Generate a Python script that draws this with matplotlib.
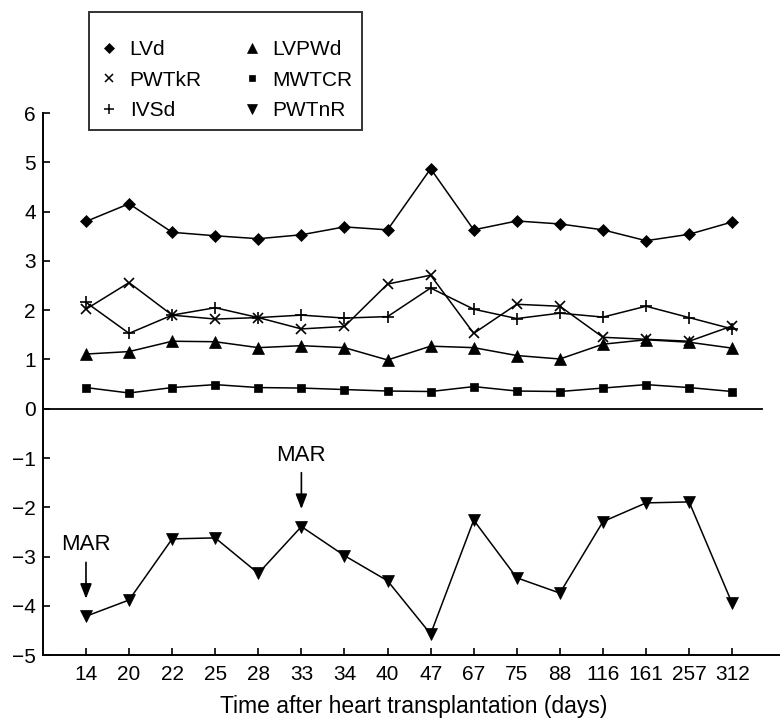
import matplotlib
matplotlib.use("Agg")
from matplotlib import pyplot as plt
from matplotlib.lines import Line2D

plt.rcParams["font.family"] = ["Liberation Sans", "DejaVu Sans"]

days = ["14", "20", "22", "25", "28", "33", "34", "40", "47", "67", "75", "88", "116", "161", "257", "312"]

lvd = [3.80, 4.16, 3.58, 3.51, 3.45, 3.53, 3.69, 3.63, 4.87, 3.63, 3.81, 3.75, 3.63, 3.41, 3.54, 3.79]
pwtkr = [2.02, 2.56, 1.90, 1.82, 1.85, 1.62, 1.67, 2.53, 2.71, 1.53, 2.12, 2.08, 1.45, 1.41, 1.37, 1.68]
ivsd = [2.16, 1.53, 1.90, 2.05, 1.85, 1.90, 1.84, 1.87, 2.45, 2.02, 1.83, 1.94, 1.86, 2.08, 1.85, 1.62]
lvpwd = [1.11, 1.16, 1.37, 1.36, 1.24, 1.28, 1.24, 0.99, 1.27, 1.24, 1.08, 1.01, 1.31, 1.40, 1.35, 1.23]
mwtcr = [0.43, 0.32, 0.43, 0.49, 0.43, 0.42, 0.39, 0.36, 0.35, 0.45, 0.36, 0.35, 0.42, 0.49, 0.43, 0.35]
pwtnr = [-4.21, -3.88, -2.64, -2.62, -3.34, -2.39, -2.98, -3.49, -4.57, -2.26, -3.43, -3.74, -2.29, -1.91, -1.89, -3.95]

mar_days = ["14", "33"]

series = [
    ("LVd", lvd, "D", 6.5),
    ("PWTkR", pwtkr, "x", 7),
    ("IVSd", ivsd, "+", 8),
    ("LVPWd", lvpwd, "^", 8.5),
    ("MWTCR", mwtcr, "s", 6),
    ("PWTnR", pwtnr, "v", 8.5),
]

fig = plt.figure(figsize=(7.8, 7.2), dpi=100)
ax = fig.add_axes([0.055, 0.09, 0.95, 0.753])

x = list(range(len(days)))
handles = []
for name, vals, mk, ms in series:
    ax.plot(x, vals, color="black", linewidth=1.1, marker=mk, markersize=ms,
            markeredgewidth=1.2 if mk in "x+" else 0.5, clip_on=False)
    handles.append(Line2D([], [], color="black", linestyle="none", marker=mk,
                          markersize=ms - 1.5, markeredgewidth=1.1 if mk in "x+" else 0.5, label=name))

ax.set_xlim(-1, 16.2)
ax.set_ylim(-5, 6)
ax.set_xticks(x)
ax.set_xticklabels(days)
ax.set_yticks(range(-5, 7))
ax.set_yticklabels([str(v).replace("-", "\u2212") for v in range(-5, 7)])
ax.tick_params(direction="in", length=5, width=1.2, labelsize=15, pad=7)
ax.tick_params(axis="y", pad=5)
ax.spines["top"].set_visible(False)
ax.spines["right"].set_visible(False)
ax.spines["left"].set_linewidth(1.4)
ax.spines["bottom"].set_linewidth(1.4)
ax.axhline(0, xmin=0, xmax=0.97, color="black", linewidth=1.3)
ax.set_xlabel("Time after heart transplantation (days)", fontsize=16.5, labelpad=8)

for d in mar_days:
    i = days.index(d)
    y = pwtnr[i]
    ax.annotate("", xy=(i, y + 0.3), xytext=(i, y + 1.15),
                arrowprops=dict(arrowstyle="-|>,head_length=0.9,head_width=0.35",
                                color="black", linewidth=1.2))
    ax.text(i, y + 1.45, "MAR", ha="center", va="center", fontsize=16)

leg = fig.legend(handles=handles, ncol=2, loc="upper left",
                 bbox_to_anchor=(89 / 780, 1 - 12 / 720), borderaxespad=0,
                 frameon=True, fancybox=False, fontsize=15,
                 title=" ", title_fontsize=5,
                 handlelength=1.0, handletextpad=0.5, columnspacing=1.9,
                 labelspacing=0.56, borderpad=0.45)
leg.get_frame().set_edgecolor("black")
leg.get_frame().set_linewidth(1.4)

plt.savefig("out.png", dpi=100)
